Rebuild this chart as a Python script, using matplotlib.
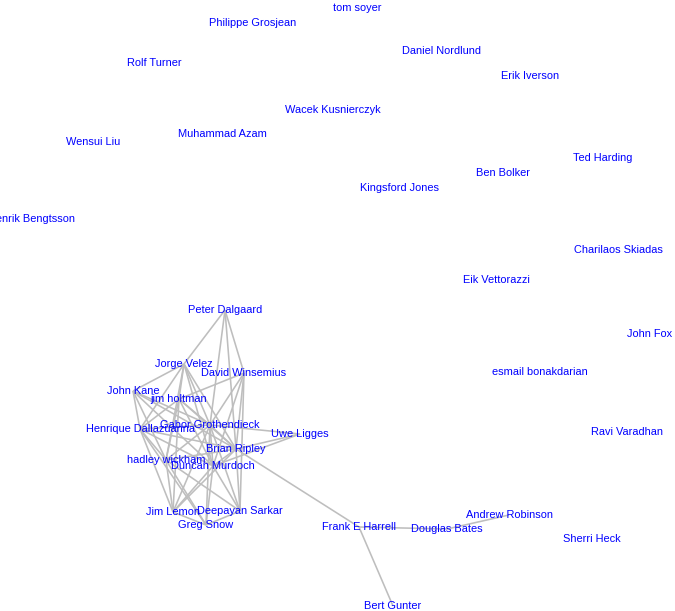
import matplotlib
matplotlib.use("Agg")
import matplotlib.pyplot as plt

# Node names and layout coordinates (layout units, origin top-left)
names = [
    "tom soyer", "Philippe Grosjean", "Daniel Nordlund", "Rolf Turner", "Erik Iverson",
    "Wacek Kusnierczyk", "Muhammad Azam", "Wensui Liu", "Ted Harding", "Ben Bolker",
    "Kingsford Jones", "Henrik Bengtsson", "Charilaos Skiadas", "Eik Vettorazzi",
    "Peter Dalgaard", "John Fox", "Jorge Velez", "David Winsemius", "esmail bonakdarian",
    "John Kane", "jim holtman", "Gabor Grothendieck", "Henrique Dallazuanna", "Uwe Ligges",
    "Ravi Varadhan", "Brian Ripley", "hadley wickham", "Duncan Murdoch", "Jim Lemon",
    "Deepayan Sarkar", "Greg Snow", "Frank E Harrell", "Douglas Bates", "Andrew Robinson",
    "Sherri Heck", "Bert Gunter",
]
node_x = [
    357, 253, 441, 154, 530,
    333, 222, 93, 603, 503,
    400, 32, 618, 496,
    225, 650, 184, 244, 540,
    133, 179, 210, 140, 300,
    627, 236, 166, 213, 173,
    240, 206, 359, 447, 509,
    592, 393,
]
node_y = [
    8, 23, 51, 63, 76,
    110, 134, 142, 158, 173,
    188, 219, 250, 280,
    310, 334, 364, 373, 372,
    391, 399, 425, 429, 434,
    432, 449, 460, 466, 512,
    511, 525, 527, 529, 515,
    539, 606,
]

edge_from = [
    "Peter Dalgaard", "Peter Dalgaard", "Peter Dalgaard", "Peter Dalgaard",
    "Jorge Velez", "Jorge Velez", "Jorge Velez", "Jorge Velez", "Jorge Velez", "Jorge Velez", "Jorge Velez",
    "David Winsemius", "David Winsemius", "David Winsemius", "David Winsemius", "David Winsemius",
    "John Kane", "John Kane", "John Kane", "John Kane", "John Kane",
    "jim holtman", "jim holtman", "jim holtman", "jim holtman", "jim holtman", "jim holtman",
    "Gabor Grothendieck", "Gabor Grothendieck", "Gabor Grothendieck", "Gabor Grothendieck",
    "Gabor Grothendieck", "Gabor Grothendieck", "Gabor Grothendieck", "Gabor Grothendieck",
    "Henrique Dallazuanna", "Henrique Dallazuanna", "Henrique Dallazuanna", "Henrique Dallazuanna",
    "Henrique Dallazuanna",
    "Uwe Ligges", "Uwe Ligges",
    "Brian Ripley", "Brian Ripley", "Brian Ripley", "Brian Ripley", "Brian Ripley",
    "hadley wickham", "hadley wickham", "hadley wickham",
    "Duncan Murdoch", "Duncan Murdoch", "Duncan Murdoch",
    "Deepayan Sarkar", "Jim Lemon",
    "Frank E Harrell", "Frank E Harrell", "Douglas Bates",
]
edge_to = [
    "Jorge Velez", "Gabor Grothendieck", "Brian Ripley", "David Winsemius",
    "John Kane", "jim holtman", "Gabor Grothendieck", "Brian Ripley", "Duncan Murdoch",
    "Henrique Dallazuanna", "hadley wickham",
    "jim holtman", "Gabor Grothendieck", "Brian Ripley", "Duncan Murdoch", "Deepayan Sarkar",
    "Gabor Grothendieck", "Brian Ripley", "Henrique Dallazuanna", "hadley wickham", "Duncan Murdoch",
    "Gabor Grothendieck", "Brian Ripley", "hadley wickham", "Jim Lemon", "Duncan Murdoch",
    "Henrique Dallazuanna",
    "Henrique Dallazuanna", "Uwe Ligges", "Brian Ripley", "Duncan Murdoch",
    "hadley wickham", "Jim Lemon", "Greg Snow", "Deepayan Sarkar",
    "Brian Ripley", "hadley wickham", "Jim Lemon", "Duncan Murdoch", "Greg Snow",
    "Brian Ripley", "Duncan Murdoch",
    "hadley wickham", "Duncan Murdoch", "Deepayan Sarkar", "Jim Lemon", "Frank E Harrell",
    "Jim Lemon", "Greg Snow", "Deepayan Sarkar",
    "Jim Lemon", "Greg Snow", "Deepayan Sarkar",
    "Greg Snow", "Greg Snow",
    "Bert Gunter", "Douglas Bates", "Andrew Robinson",
]

pos = {n: (x, y) for n, x, y in zip(names, node_x, node_y)}

fig = plt.figure(figsize=(6.75, 6.11), dpi=100)
ax = fig.add_axes([0, 0, 1, 1])
ax.set_xlim(0, 675)
ax.set_ylim(611, 0)
ax.axis("off")

for a, b in zip(edge_from, edge_to):
    (x1, y1), (x2, y2) = pos[a], pos[b]
    ax.plot([x1, x2], [y1, y2], color="#BEBEBE", lw=1.15, zorder=1,
            solid_capstyle="butt")

for n in names:
    x, y = pos[n]
    ax.text(x, y, n, ha="center", va="center", color="#0000ff",
            fontsize=7.9, family=["Liberation Sans", "DejaVu Sans"], zorder=2)

fig.savefig("out.png", dpi=100)
